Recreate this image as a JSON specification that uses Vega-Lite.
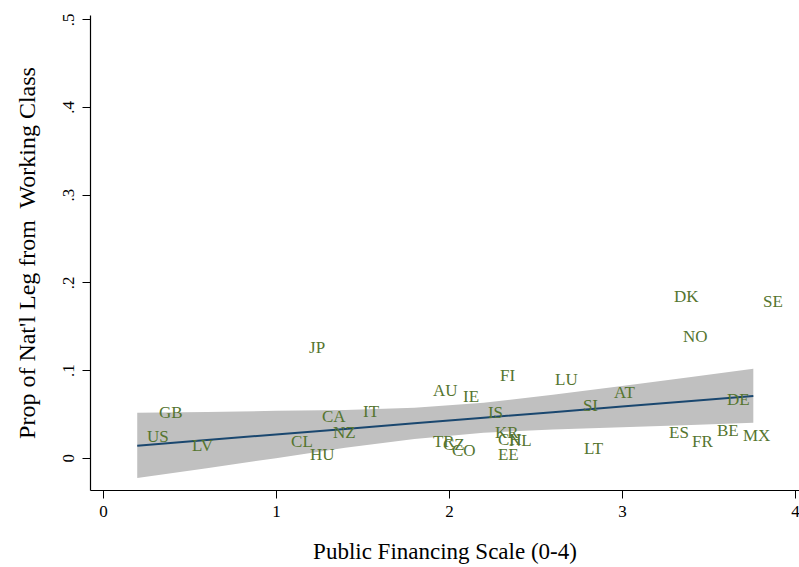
{
  "$schema": "https://vega.github.io/schema/vega-lite/v6.json",
  "width": 709,
  "height": 475,
  "autosize": {"type": "none"},
  "padding": {"left": 90, "top": 15, "right": 0, "bottom": 77},
  "background": "white",
  "config": {
    "view": {"stroke": null},
    "font": "Liberation Serif",
    "axis": {
      "grid": false,
      "domainColor": "#000000",
      "domainWidth": 1.2,
      "tickColor": "#000000",
      "tickWidth": 1,
      "tickSize": 8,
      "labelColor": "#000000",
      "labelFont": "Liberation Serif",
      "labelFontSize": 17,
      "titleColor": "#000000",
      "titleFont": "Liberation Serif",
      "titleFontWeight": "normal"
    }
  },
  "datasets": {
    "pts": [
      {"code": "GB", "x": 0.268, "y": 0.051},
      {"code": "US", "x": 0.198, "y": 0.0236},
      {"code": "LV", "x": 0.458, "y": 0.0133},
      {"code": "JP", "x": 1.135, "y": 0.125},
      {"code": "CA", "x": 1.21, "y": 0.0464},
      {"code": "IT", "x": 1.447, "y": 0.0521},
      {"code": "NZ", "x": 1.273, "y": 0.0282},
      {"code": "CL", "x": 1.031, "y": 0.0179},
      {"code": "HU", "x": 1.14, "y": 0.0031},
      {"code": "AU", "x": 1.851, "y": 0.0761},
      {"code": "IE", "x": 2.025, "y": 0.0692},
      {"code": "FI", "x": 2.239, "y": 0.0932},
      {"code": "LU", "x": 2.557, "y": 0.0886},
      {"code": "IS", "x": 2.169, "y": 0.051},
      {"code": "SI", "x": 2.718, "y": 0.059},
      {"code": "AT", "x": 2.898, "y": 0.0738},
      {"code": "DE", "x": 3.551, "y": 0.0658},
      {"code": "DK", "x": 3.245, "y": 0.1832},
      {"code": "SE", "x": 3.759, "y": 0.1775},
      {"code": "NO", "x": 3.297, "y": 0.1376},
      {"code": "ES", "x": 3.216, "y": 0.0282},
      {"code": "FR", "x": 3.349, "y": 0.0179},
      {"code": "BE", "x": 3.493, "y": 0.0304},
      {"code": "MX", "x": 3.643, "y": 0.0247},
      {"code": "LT", "x": 2.724, "y": 0.0099},
      {"code": "TR", "x": 1.851, "y": 0.0179},
      {"code": "CZ", "x": 1.909, "y": 0.0145},
      {"code": "CO", "x": 1.961, "y": 0.0076},
      {"code": "KR", "x": 2.21, "y": 0.0282},
      {"code": "CH", "x": 2.227, "y": 0.0202},
      {"code": "NL", "x": 2.291, "y": 0.019},
      {"code": "EE", "x": 2.227, "y": 0.0031}
    ],
    "fit": [
      {"x": 0.198, "lo": -0.0231, "hi": 0.0513, "fit": 0.0137},
      {"x": 0.6, "lo": -0.0119, "hi": 0.0521, "fit": 0.0201},
      {"x": 1.0, "lo": -0.0005, "hi": 0.0535, "fit": 0.0265},
      {"x": 1.4, "lo": 0.0113, "hi": 0.0543, "fit": 0.0328},
      {"x": 1.8, "lo": 0.0215, "hi": 0.0569, "fit": 0.0392},
      {"x": 2.2, "lo": 0.0284, "hi": 0.0628, "fit": 0.0456},
      {"x": 2.6, "lo": 0.0323, "hi": 0.0717, "fit": 0.052},
      {"x": 3.0, "lo": 0.0348, "hi": 0.0818, "fit": 0.0583},
      {"x": 3.4, "lo": 0.0372, "hi": 0.0922, "fit": 0.0647},
      {"x": 3.759, "lo": 0.0399, "hi": 0.1015, "fit": 0.0704}
    ]
  },
  "layer": [
    {
      "data": {"name": "fit"},
      "mark": {"type": "area", "color": "#c0c0c0", "opacity": 1},
      "encoding": {
        "x": {
          "field": "x", "type": "quantitative",
          "scale": {"domain": [-0.075, 4.023], "nice": false, "zero": false},
          "axis": {"values": [0, 1, 2, 3, 4], "format": "d", "labelPadding": 5, "titlePadding": 21, "titleFontSize": 23, "title": "Public Financing Scale (0-4)"}
        },
        "y": {
          "field": "lo", "type": "quantitative",
          "scale": {"domain": [-0.0368, 0.5049], "nice": false, "zero": false},
          "axis": {
            "values": [0, 0.1, 0.2, 0.3, 0.4, 0.5],
            "labelExpr": "datum.value === 0 ? '0' : substring(format(datum.value, '.1f'), 1)",
            "labelAngle": -90,
            "labelAlign": "center",
            "labelBaseline": "alphabetic",
            "labelPadding": 9,
            "titlePadding": 20,
            "titleFontSize": 24,
            "title": "Prop of Nat'l Leg from\u00a0 Working Class"
          }
        },
        "y2": {"field": "hi"}
      }
    },
    {
      "data": {"name": "fit"},
      "mark": {"type": "line", "color": "#1a476f", "strokeWidth": 2},
      "encoding": {
        "x": {"field": "x", "type": "quantitative"},
        "y": {"field": "fit", "type": "quantitative"}
      }
    },
    {
      "data": {"name": "pts"},
      "mark": {"type": "text", "align": "left", "baseline": "middle", "dx": 9.7, "fontSize": 17, "color": "#55752f", "font": "Liberation Serif"},
      "encoding": {
        "x": {"field": "x", "type": "quantitative"},
        "y": {"field": "y", "type": "quantitative"},
        "text": {"field": "code"}
      }
    }
  ]
}
